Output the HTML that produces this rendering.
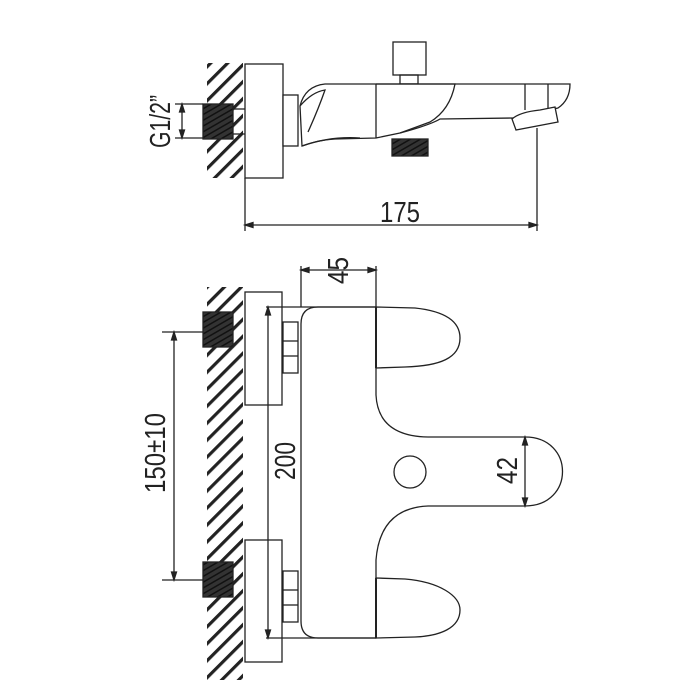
<!DOCTYPE html>
<html><head><meta charset="utf-8"><style>html,body{margin:0;padding:0;background:#fff}svg{display:block}</style></head><body>
<svg width="700" height="700" viewBox="0 0 700 700" xmlns="http://www.w3.org/2000/svg" font-family="Liberation Sans, sans-serif">
<defs>
<pattern id="h" width="12" height="12" patternUnits="userSpaceOnUse" patternTransform="rotate(45)">
<rect x="0" y="0" width="3.2" height="12" fill="#222"/>
</pattern>
<pattern id="t" width="5" height="5" patternUnits="userSpaceOnUse" patternTransform="rotate(60)">
<rect width="5" height="5" fill="#333"/><rect x="0" y="0" width="1.5" height="5" fill="#111"/>
</pattern>
</defs>
<g fill="none" stroke="#222" stroke-width="1.3">
<rect x="207" y="63" width="36" height="115" fill="url(#h)" stroke="none"/>
<rect x="245" y="64" width="38" height="114" fill="#fff"/>
<rect x="203" y="104" width="30" height="35" fill="url(#t)" stroke="#222"/>
<rect x="283" y="95" width="15" height="51" fill="#fff"/>
<line x1="233" y1="109" x2="245" y2="109"/><line x1="233" y1="134" x2="245" y2="134"/>
<rect x="393" y="42" width="33" height="33" fill="#fff"/>
<rect x="400" y="75" width="18" height="9"/>
<path d="M300 106 Q305 86 325 84 L570 84 Q570 100 558 108 L540 112 L514 118 L440 119 Q430 125 400 133 L376 138 L335 139 Q318 140 302 146 Z" fill="#fff"/>
<path d="M302 146 Q330 136 360 138 M300 106 Q312 92 325 90 Q318 110 308 132" />
<line x1="376" y1="84" x2="376" y2="138"/>
<path d="M376 84 L455 84 Q450 110 430 122 L400 133"/>
<line x1="525" y1="84" x2="525" y2="110"/><line x1="548" y1="84" x2="548" y2="110"/>
<path d="M512 119 Q520 112 540 110 L555 107 L558 122 L516 130 Z" fill="#fff"/>
<rect x="392" y="139" width="36" height="17" fill="url(#t)"/>
<line x1="245" y1="178" x2="245" y2="231"/><line x1="537" y1="128" x2="537" y2="231"/>
<line x1="245" y1="225" x2="537" y2="225"/>
<path d="M245 225 l8 -2.5 v5 z M537 225 l-8 -2.5 v5 z" fill="#222"/>
<line x1="175" y1="104" x2="203" y2="104"/><line x1="175" y1="138" x2="203" y2="138"/>
<line x1="182" y1="104" x2="182" y2="138"/>
<path d="M182 104 l-2.5 8 h5 z M182 138 l-2.5 -8 h5 z" fill="#222"/>

<rect x="207" y="287" width="36" height="393" fill="url(#h)" stroke="none"/>
<rect x="245" y="292" width="37" height="113" fill="#fff"/>
<rect x="245" y="540" width="37" height="122" fill="#fff"/>
<rect x="203" y="312" width="30" height="35" fill="url(#t)"/>
<rect x="203" y="562" width="30" height="35" fill="url(#t)"/>
<rect x="283" y="322" width="15" height="51" fill="#fff"/><line x1="283" y1="341" x2="298" y2="341"/><line x1="283" y1="356" x2="298" y2="356"/>
<rect x="283" y="571" width="15" height="51" fill="#fff"/><line x1="283" y1="590" x2="298" y2="590"/><line x1="283" y1="605" x2="298" y2="605"/>
<path d="M376 307 L318 307 Q301 307 301 324 L301 621 Q301 638 318 638 L376 638 L376 578 L376 560 Q380 508 428 506 L525 506 C575 506 575 437 525 437 L428 437 Q378 436 376 395 L376 368 Z" fill="#fff"/>
<path d="M376 307 L415 308 C452 312 460 326 460 338 C460 358 440 366 405 367 L376 368 Z" fill="#fff"/>
<path d="M376 578 L405 579 C440 582 460 596 460 610 C460 628 440 636 415 637 L376 638 Z" fill="#fff"/>
<line x1="376" y1="307" x2="376" y2="368" stroke-width="2"/><line x1="376" y1="578" x2="376" y2="638" stroke-width="2"/>
<circle cx="410" cy="472" r="16"/>
<line x1="301" y1="266" x2="301" y2="307"/><line x1="376" y1="266" x2="376" y2="307"/>
<line x1="301" y1="270" x2="376" y2="270"/>
<path d="M301 270 l8 -2.5 v5 z M376 270 l-8 -2.5 v5 z" fill="#222"/>
<line x1="266" y1="307" x2="376" y2="307"/><line x1="266" y1="638" x2="376" y2="638"/>
<line x1="268" y1="307" x2="268" y2="638"/>
<path d="M268 307 l-2.5 8 h5 z M268 638 l-2.5 -8 h5 z" fill="#222"/>
<line x1="162" y1="332" x2="203" y2="332"/><line x1="162" y1="580" x2="203" y2="580"/>
<line x1="174" y1="332" x2="174" y2="580"/>
<path d="M174 332 l-2.5 8 h5 z M174 580 l-2.5 -8 h5 z" fill="#222"/>
<line x1="525" y1="437" x2="525" y2="506"/>
<path d="M525 437 l-2.5 8 h5 z M525 506 l-2.5 -8 h5 z" fill="#222"/>
</g>
<g fill="#222" font-size="29">
<text x="380" y="222" textLength="40" lengthAdjust="spacingAndGlyphs">175</text>
<text transform="translate(170,148) rotate(-90)" textLength="53" lengthAdjust="spacingAndGlyphs">G1/2”</text>
<text transform="translate(348,284) rotate(-90)" textLength="27" lengthAdjust="spacingAndGlyphs">45</text>
<text transform="translate(295,480) rotate(-90)" textLength="38" lengthAdjust="spacingAndGlyphs">200</text>
<text transform="translate(165,493) rotate(-90)" textLength="80" lengthAdjust="spacingAndGlyphs">150±10</text>
<text transform="translate(517,484) rotate(-90)" textLength="27" lengthAdjust="spacingAndGlyphs">42</text>
</g>
</svg>
</body></html>
